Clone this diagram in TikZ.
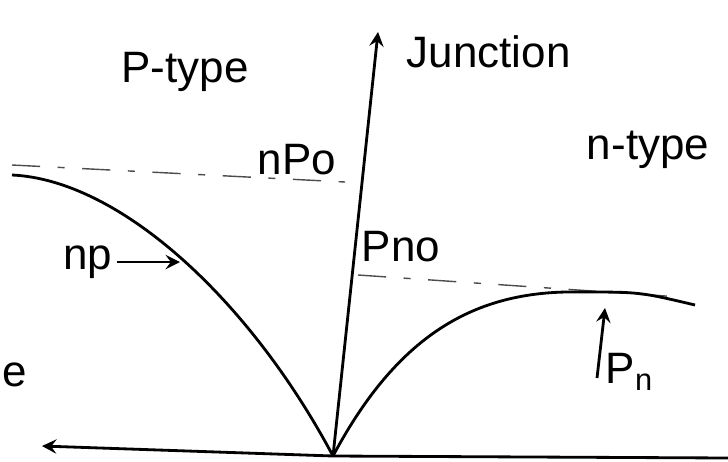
\documentclass[tikz,border=0pt]{standalone}
\usepackage{fontspec}
\setmainfont{Liberation Sans}
\usepackage{tikz}
\usetikzlibrary{arrows.meta, calc}

\begin{document}
\begin{tikzpicture}[x=0.01cm, y=-0.01cm, thick, >=stealth,
        lbl/.style={font=\fontsize{12.5}{14}\selectfont, inner sep=1pt},
        eqline/.style={thin, black!70, dash pattern=on 8pt off 5pt on 2pt off 5pt}]
        \useasboundingbox (0,0) rectangle (728,461);

        % 기준점들
        \coordinate (o) at (333,456);
        \coordinate (jtop) at (378,32);
        \coordinate (axl) at (42,446);
        \coordinate (axr) at (728,458);

        % 아래 축과 접합면 화살표
        \draw[<-] (axl) -- (o) -- (axr);
        \draw[->] (o) -- (jtop);
        \node[lbl, anchor=west] (junc) at (402,52) {Junction};

        % 영역 이름
        \node[lbl] (ptype) at (185,72) {P-type};
        \node[lbl] (ntype) at (648,150) {n-type};
        \node[lbl, anchor=west, inner sep=0pt] (e) at (1,375) {e};

        % 평형 농도 (점선)
        \coordinate (npl) at (12,165);
        \coordinate (npr) at (345,182);
        \draw[eqline] (npl) -- (npr);
        \node[lbl] (npo) at (297,160) {nPo};

        \coordinate (pnl) at (358,275);
        \coordinate (pnr) at (680,297);
        \draw[eqline] (pnl) -- (pnr);
        \node[lbl, anchor=west] (pno) at (357,247) {Pno};

        % 소수 캐리어 분포 곡선
        \coordinate (lstart) at (12,175);
        \draw (lstart) .. controls (120,180) and (250,300) .. (o);
        \coordinate (rpeak) at (580,292);
        \coordinate (rend) at (695,305);
        \draw (o) .. controls (400,330) and (480,290) .. (rpeak)
              .. controls (640,292) .. (rend);

        % 곡선 표시 화살표
        \node[lbl] (np) at (88,262) {np};
        \coordinate (nptip) at (180,262);
        \draw[->] (np.east) -- (nptip);

        \coordinate (pnfoot) at (597,378);
        \coordinate (pntip) at (605,308);
        \draw[->] (pnfoot) -- (pntip);
        \node[lbl] (pn) at (630,372) {P\textsubscript{n}};

    \end{tikzpicture}
\end{document}
